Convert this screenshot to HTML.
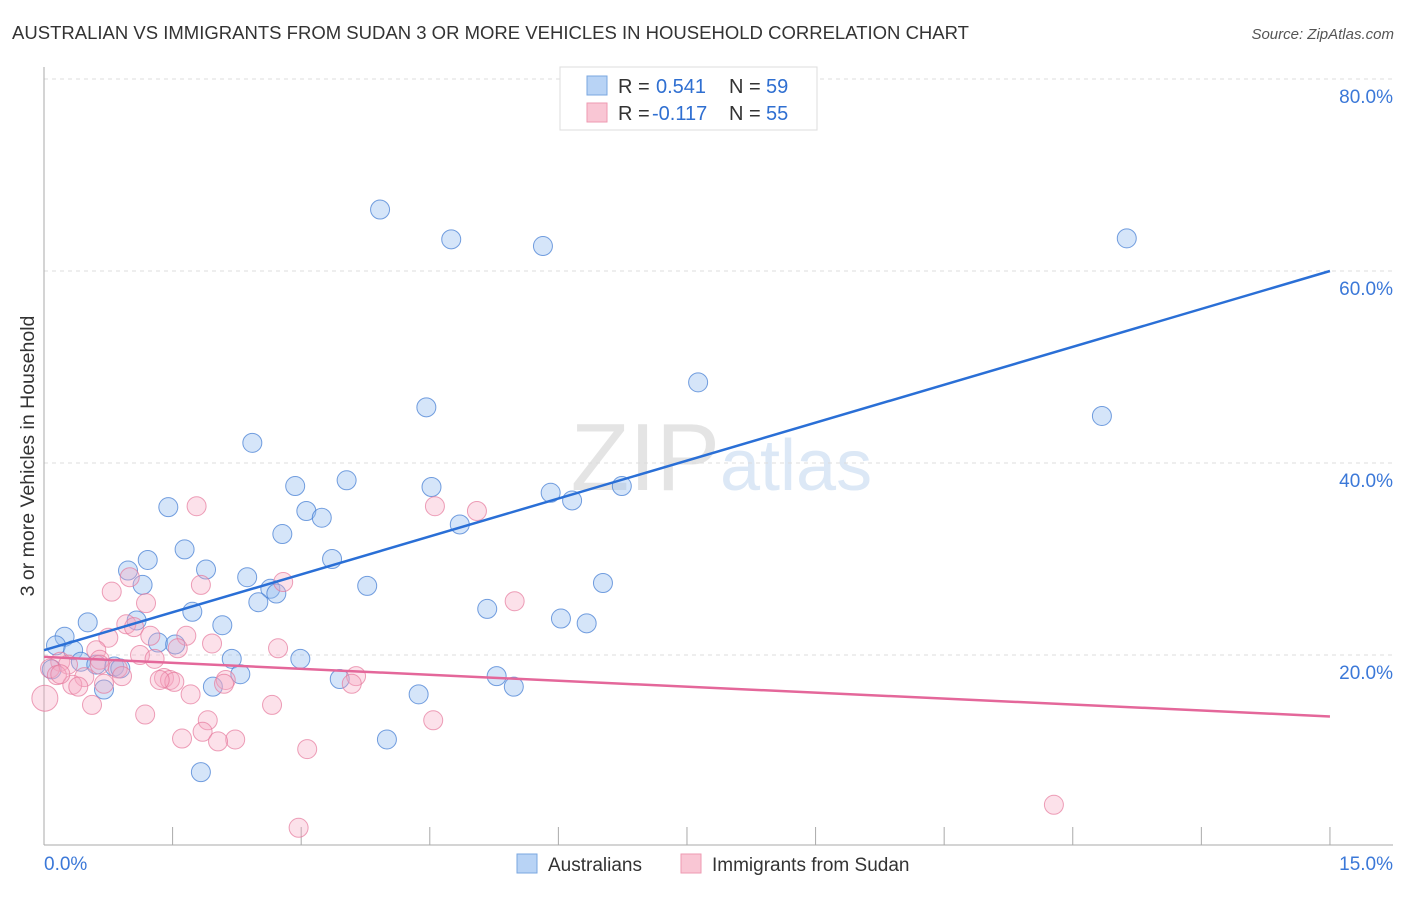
<!DOCTYPE html>
<html><head><meta charset="utf-8"><style>
body{margin:0;background:#fff;font-family:"Liberation Sans",sans-serif;}
svg text{font-family:"Liberation Sans",sans-serif;}
</style></head><body>
<svg id="chart" width="1406" height="892" xmlns="http://www.w3.org/2000/svg">
<text x="12" y="39" font-size="18" fill="#333" textLength="957" lengthAdjust="spacingAndGlyphs">AUSTRALIAN VS IMMIGRANTS FROM SUDAN 3 OR MORE VEHICLES IN HOUSEHOLD CORRELATION CHART</text>
<text x="1394" y="39" font-size="15" fill="#555" text-anchor="end" font-style="italic">Source: ZipAtlas.com</text>
<text transform="translate(34,456) rotate(-90)" font-size="19.5" fill="#333" text-anchor="middle">3 or more Vehicles in Household</text>
<text x="720" y="490" font-size="96" fill="#e4e4e4" text-anchor="end" font-family="Liberation Serif">ZIP</text>
<text x="720" y="490" font-size="72" fill="#dce8f6">atlas</text>
<g id="grid"></g><g id="axes"></g><g id="pts"></g><g id="lines"></g>
<g>
<rect x="560" y="67" width="257" height="63" fill="#fff" stroke="#ddd"/>
<rect x="587" y="76" width="20" height="19" fill="#b8d3f5" stroke="#7aa7e0"/>
<rect x="587" y="103" width="20" height="19" fill="#f9c6d4" stroke="#ee9ab2"/>
<text x="618" y="93" font-size="20" fill="#333">R = </text><text x="656" y="93" font-size="20" fill="#2f6fd1">0.541</text>
<text x="729" y="93" font-size="20" fill="#333">N = </text><text x="766" y="93" font-size="20" fill="#2f6fd1">59</text>
<text x="618" y="120" font-size="20" fill="#333">R = </text><text x="652" y="120" font-size="20" fill="#2f6fd1">-0.117</text>
<text x="729" y="120" font-size="20" fill="#333">N = </text><text x="766" y="120" font-size="20" fill="#2f6fd1">55</text>
</g>
<g>
<rect x="517" y="854" width="20" height="19" fill="#b8d3f5" stroke="#7aa7e0"/>
<text x="548" y="871" font-size="19" fill="#333">Australians</text>
<rect x="681" y="854" width="20" height="19" fill="#f9c6d4" stroke="#ee9ab2"/>
<text x="712" y="871" font-size="19" fill="#333">Immigrants from Sudan</text>
</g>
</svg>
<script>
const blueX=[3.92,4.75,5.82,12.63,7.63,12.34,4.46,2.43,3.53,2.93,4.52,5.91,6.16,6.74,1.45,3.06,3.24,4.85,2.78,1.64,1.21,3.36,0.98,1.89,2.37,1.15,3.77,6.52,2.64,2.71,2.50,1.73,5.17,6.03,6.33,1.08,0.51,2.08,0.24,0.14,1.33,1.53,0.34,2.19,2.99,0.43,0.61,0.82,0.89,0.09,2.29,5.28,3.45,1.97,5.48,0.70,4.37,4.00,1.83];
const blueY=[66.4,63.3,62.6,63.4,48.4,44.9,45.8,42.1,38.2,37.6,37.5,36.9,36.1,37.6,35.4,35.0,34.3,33.6,32.6,31.0,29.9,30.0,28.8,28.9,28.1,27.3,27.2,27.5,26.9,26.4,25.5,24.5,24.8,23.8,23.3,23.6,23.4,23.1,21.9,21.0,21.3,21.1,20.5,19.6,19.6,19.3,19.0,18.8,18.6,18.5,18.0,17.8,17.5,16.7,16.7,16.4,15.9,11.2,7.8];
const pinkX=[1.78,4.56,5.05,1.00,1.83,1.19,2.79,0.79,5.49,0.96,1.05,0.75,1.24,1.66,1.96,0.61,2.73,1.56,1.12,1.29,0.65,0.19,0.28,0.07,0.86,0.15,0.91,0.47,1.40,1.47,1.52,1.35,2.12,3.64,2.10,3.59,0.33,0.40,0.70,1.71,0.01,0.56,2.66,1.18,1.91,4.54,1.61,1.85,2.23,2.03,3.07,11.78,2.97,0.19,0.65];
const pinkY=[35.5,35.5,35.0,28.1,27.3,25.4,27.6,26.6,25.6,23.2,22.9,21.8,22.0,22.0,21.2,20.5,20.7,20.7,20.0,19.6,19.5,19.3,19.0,18.6,18.6,17.9,17.8,17.7,17.6,17.4,17.2,17.4,17.4,17.8,17.0,17.0,16.9,16.7,17.0,15.9,15.5,14.8,14.8,13.8,13.2,13.2,11.3,12.0,11.2,11.0,10.2,4.4,2.0,18.0,19.0];
const blueFit=[20.5,60.0];
const pinkFit=[19.8,13.6];
const xTicks=[0,1.5,3,4.5,6,7.5,9,10.5,12,13.5,15];
const yTicks=[20,40,60,80];
const X=v=>44+v*85.73, Y=v=>847-v*9.6;
const NS="http://www.w3.org/2000/svg";
function mk(p,t,a){const e=document.createElementNS(NS,t);for(const k in a)e.setAttribute(k,a[k]);document.getElementById(p).appendChild(e);return e;}
yTicks.forEach(t=>{
 const l=mk('grid','line',{x1:44,x2:1393,y1:Y(t),y2:Y(t),stroke:'#ddd','stroke-dasharray':'4,4'});
 
 
 const tx=mk('grid','text',{x:1393,y:Y(t)+24,'font-size':19,fill:'#3b78d8','text-anchor':'end'});tx.textContent=t.toFixed(1)+'%';
 
 
});
{const l=mk('grid','line',{x1:44,x2:1393,y1:79,y2:79,stroke:'#ddd','stroke-dasharray':'4,4'});
 
 }
const ax=mk('axes','line',{x1:44,x2:44,y1:67,y2:845,stroke:'#aaa'});


const bx=mk('axes','line',{x1:44,x2:1393,y1:845,y2:845,stroke:'#aaa'});


xTicks.forEach(t=>{const l=mk('axes','line',{x1:X(t),x2:X(t),y1:827,y2:845,stroke:'#aaa'});
 
 });
[[0,'start'],[15,'end']].forEach(([t,a])=>{const tx=mk('axes','text',{x:t?1393:44,y:870,'font-size':19,fill:'#3b78d8','text-anchor':a});tx.textContent=t.toFixed(1)+'%';
 
 });
blueX.forEach((x,i)=>{const c=mk('pts','circle',{cx:X(x),cy:Y(blueY[i]),r:9.5,fill:'rgba(150,190,240,0.4)',stroke:'rgba(60,120,210,0.7)','stroke-width':1});
 
 });
pinkX.forEach((x,i)=>{const c=mk('pts','circle',{cx:X(x),cy:Y(pinkY[i]),r:i==40?13:9.5,fill:'rgba(245,170,195,0.35)',stroke:'rgba(230,120,155,0.7)','stroke-width':1});
 
 });
const bl=mk('lines','line',{x1:X(0),y1:Y(blueFit[0]),x2:X(15),y2:Y(blueFit[1]),stroke:'#2a6fd6','stroke-width':2.5});


const pl=mk('lines','line',{x1:X(0),y1:Y(pinkFit[0]),x2:X(15),y2:Y(pinkFit[1]),stroke:'#e4679a','stroke-width':2.5});


</script>
</body></html>
